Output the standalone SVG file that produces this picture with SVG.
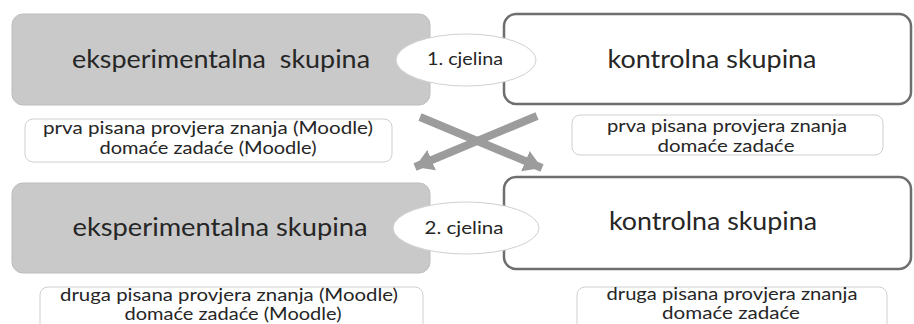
<svg xmlns="http://www.w3.org/2000/svg" width="914" height="324" viewBox="0 0 914 324">
<style>
.bg{fill:#ffffff}
.exp{fill:#c9c9c9;stroke:#bdbdbd;stroke-width:1}
.ctl{fill:#ffffff;stroke:#6e6e6e;stroke-width:2.5}
.note{fill:#ffffff;stroke:#cfcfcf;stroke-width:1}
.ell{fill:#ffffff;stroke:#d0d0d0;stroke-width:1}
text{font-family:Lato,"Open Sans","Liberation Sans",sans-serif;fill:#262626;text-anchor:middle}
.big{font-size:25px}
.small{font-size:16.5px}
.lbl{font-size:17px}
.arr{stroke:#9c9c9c;stroke-width:8;fill:none}
</style>
<defs>
<marker id="ah" markerUnits="userSpaceOnUse" markerWidth="22" markerHeight="24" refX="18" refY="12" orient="auto">
<path d="M0,1 L18,12 L0,23 Z" fill="#9c9c9c"/>
</marker>
</defs>
<rect class="bg" x="0" y="0" width="914" height="324"/>

<g id="exp1">
<rect class="exp" x="12" y="14" width="418" height="91" rx="11"/>
<text class="big" x="221" y="68" textLength="298" lengthAdjust="spacingAndGlyphs" xml:space="preserve">eksperimentalna  skupina</text>
</g>
<g id="ctl1">
<rect class="ctl" x="504" y="14" width="407" height="90" rx="12"/>
<text class="big" x="712" y="68" textLength="209" lengthAdjust="spacingAndGlyphs">kontrolna skupina</text>
</g>
<g id="cjelina1">
<ellipse class="ell" cx="466" cy="60" rx="70" ry="26"/>
<text class="lbl" x="465" y="65" textLength="76" lengthAdjust="spacingAndGlyphs">1. cjelina</text>
</g>

<g id="note1l">
<rect class="note" x="25" y="119" width="367" height="43" rx="8"/>
<text class="small" x="208" y="134" textLength="330" lengthAdjust="spacingAndGlyphs">prva pisana provjera znanja (Moodle)</text>
<text class="small" x="208" y="154" textLength="217" lengthAdjust="spacingAndGlyphs">domaće zadaće (Moodle)</text>
</g>
<g id="note1r">
<rect class="note" x="572" y="115" width="311" height="40" rx="8"/>
<text class="small" x="727" y="132" textLength="240" lengthAdjust="spacingAndGlyphs">prva pisana provjera znanja</text>
<text class="small" x="726" y="152" textLength="137" lengthAdjust="spacingAndGlyphs">domaće zadaće</text>
</g>

<g id="connectors">
<line class="arr" x1="420" y1="117" x2="542" y2="168" marker-end="url(#ah)"/>
<line class="arr" x1="537" y1="116" x2="415" y2="167" marker-end="url(#ah)"/>
</g>

<g id="exp2">
<rect class="exp" x="12" y="183" width="418" height="90" rx="11"/>
<text class="big" x="220" y="236" textLength="295" lengthAdjust="spacingAndGlyphs">eksperimentalna skupina</text>
</g>
<g id="ctl2">
<rect class="ctl" x="504" y="177" width="407" height="92" rx="12"/>
<text class="big" x="713" y="230" textLength="208" lengthAdjust="spacingAndGlyphs">kontrolna skupina</text>
</g>
<g id="cjelina2">
<ellipse class="ell" cx="466" cy="228" rx="73" ry="26"/>
<text class="lbl" x="464" y="234" textLength="79" lengthAdjust="spacingAndGlyphs">2. cjelina</text>
</g>

<g id="note2l">
<rect class="note" x="40" y="287" width="383" height="45" rx="8"/>
<text class="small" x="229" y="301" textLength="338" lengthAdjust="spacingAndGlyphs">druga pisana provjera znanja (Moodle)</text>
<text class="small" x="233" y="320" textLength="217" lengthAdjust="spacingAndGlyphs">domaće zadaće (Moodle)</text>
</g>
<g id="note2r">
<rect class="note" x="577" y="287" width="310" height="45" rx="8"/>
<text class="small" x="732" y="300" textLength="251" lengthAdjust="spacingAndGlyphs">druga pisana provjera znanja</text>
<text class="small" x="731" y="319" textLength="138" lengthAdjust="spacingAndGlyphs">domaće zadaće</text>
</g>
</svg>
